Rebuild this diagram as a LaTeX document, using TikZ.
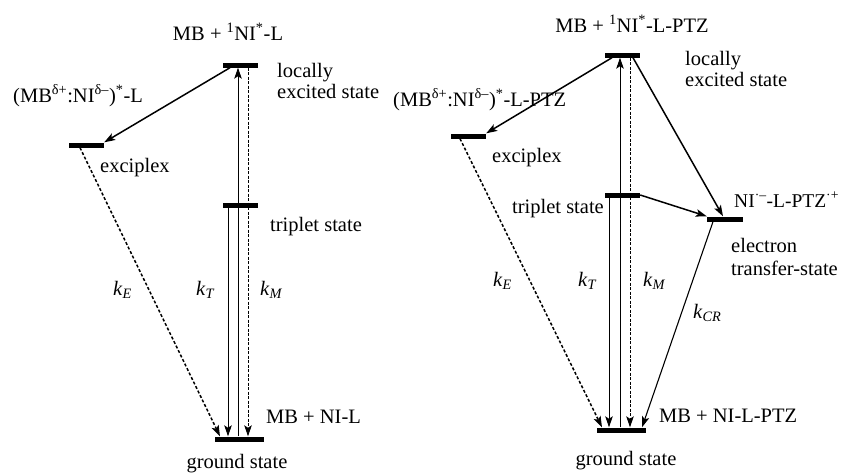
\documentclass[tikz,border=0pt]{standalone}
\usepackage{fontspec}
\setmainfont{Liberation Serif}
\usetikzlibrary{calc, arrows.meta}

\begin{document}
\begin{tikzpicture}[
  x=1pt, y=-1pt,
  font=\fontsize{20.5}{21}\selectfont,
  lvl/.style={fill, inner sep=0pt, minimum height=5pt, minimum width=35pt},
  lbl/.style={inner sep=0pt, anchor=base west},
  arr/.style={-{Stealth[length=11pt, width=7.5pt, inset=2.5pt]}, line width=1.5pt},
  vert/.style={-{Stealth[length=11pt, width=7.5pt, inset=2.5pt]}, line width=0.9pt},
  vertdot/.style={vert, dash pattern=on 3pt off 1.5pt},
  dotarr/.style={arr, line width=1.5pt, dash pattern=on 3pt off 2pt}
]
  \useasboundingbox (0,0) rectangle (843,474);

  % left scheme: MB + NI-L
  \node[lvl] (le) at (240.5,65) {};
  \node[lvl] (ex) at (86.5,145) {};
  \node[lvl] (tr) at (240.5,205) {};
  \node[lvl, minimum width=49pt] (gs) at (239.5,439) {};

  \node[lbl, anchor=base] (leName) at (228,40) {MB + \textsuperscript{1}NI\textsuperscript{*}-L};
  \node[lbl, anchor=north west, align=left] (leText) at (277,63) {locally\\excited state};
  \node[lbl] (exName) at (13,102) {(MB\textsuperscript{δ+}:NI\textsuperscript{δ–})\textsuperscript{*}-L};
  \node[lbl] (exText) at (100,172) {exciplex};
  \node[lbl] (trText) at (270,231) {triplet state};
  \node[lbl] (gsName) at (266,423) {MB + NI-L};
  \node[lbl, anchor=base] (gsText) at (237,468) {ground state};

  \draw[vert] ([xshift=-1.5pt]gs.north) -- ([xshift=-2.5pt]le.south);
  \draw[vertdot] ([xshift=7.5pt]le.south) -- ([xshift=8.5pt]gs.north);
  \draw[vert] ([xshift=-12.5pt]tr.south) -- ([xshift=-11.5pt]gs.north);
  \draw[dotarr] ([xshift=-6.5pt]ex.south) -- ([xshift=-19.5pt]gs.north);
  \draw[arr] ([xshift=-10.5pt]le.south) -- (ex.north east);

  \node[lbl] (kE) at (113,295) {\textit{k}\textsubscript{\textit{E}}};
  \node[lbl] (kT) at (196,295) {\textit{k}\textsubscript{\textit{T}}};
  \node[lbl] (kM) at (260,295) {\textit{k}\textsubscript{\textit{M}}};

  % right scheme: MB + NI-L-PTZ
  \node[lvl] (le2) at (622.5,55) {};
  \node[lvl] (ex2) at (468.5,136) {};
  \node[lvl] (tr2) at (622.5,195) {};
  \node[lvl, minimum width=36pt] (et) at (725,219) {};
  \node[lvl, minimum width=49pt] (gs2) at (621.5,430) {};

  \node[lbl, anchor=base] (le2Name) at (632,32) {MB + \textsuperscript{1}NI\textsuperscript{*}-L-PTZ};
  \node[lbl, anchor=north west, align=left] (le2Text) at (685,51) {locally\\excited state};
  \node[lbl] (ex2Name) at (393,106) {(MB\textsuperscript{δ+}:NI\textsuperscript{δ–})\textsuperscript{*}-L-PTZ};
  \node[lbl] (ex2Text) at (492,162) {exciplex};
  \node[lbl, anchor=base east] (tr2Text) at (604,213) {triplet state};
  \node[lbl, font=\fontsize{19.5}{21}\selectfont] (etName) at (734,207) {NI\textsuperscript{·–}-L-PTZ\textsuperscript{·+}};
  \node[lbl, anchor=north west, align=left] (etText) at (731,238) {electron\\[2pt]transfer-state};
  \node[lbl] (gs2Name) at (659,422) {MB + NI-L-PTZ};
  \node[lbl, anchor=base] (gs2Text) at (626,465) {ground state};

  \draw[vert] ([xshift=-1.5pt]gs2.north) -- ([xshift=-2.5pt]le2.south);
  \draw[vertdot] ([xshift=7.5pt]le2.south) -- ([xshift=8.5pt]gs2.north);
  \draw[vert] ([xshift=-13.5pt]tr2.south) -- ([xshift=-12.5pt]gs2.north);
  \draw[dotarr] ([xshift=-8.5pt]ex2.south) -- ([xshift=-19.5pt]gs2.north);
  \draw[arr] ([xshift=-10.5pt]le2.south) -- (ex2.north east);
  \draw[arr] ([xshift=10.5pt]le2.south) -- ([xshift=-2pt]et.north);
  \draw[arr] (tr2.east) -- (et.north west);
  \draw[vert, line width=1.1pt] ([xshift=-12pt]et.south) -- ([xshift=20.5pt]gs2.north);

  \node[lbl] (kE2) at (493,286) {\textit{k}\textsubscript{\textit{E}}};
  \node[lbl] (kT2) at (578,286) {\textit{k}\textsubscript{\textit{T}}};
  \node[lbl] (kM2) at (643,286) {\textit{k}\textsubscript{\textit{M}}};
  \node[lbl] (kCR) at (693,318) {\textit{k}\textsubscript{\textit{CR}}};
\end{tikzpicture}
\end{document}
